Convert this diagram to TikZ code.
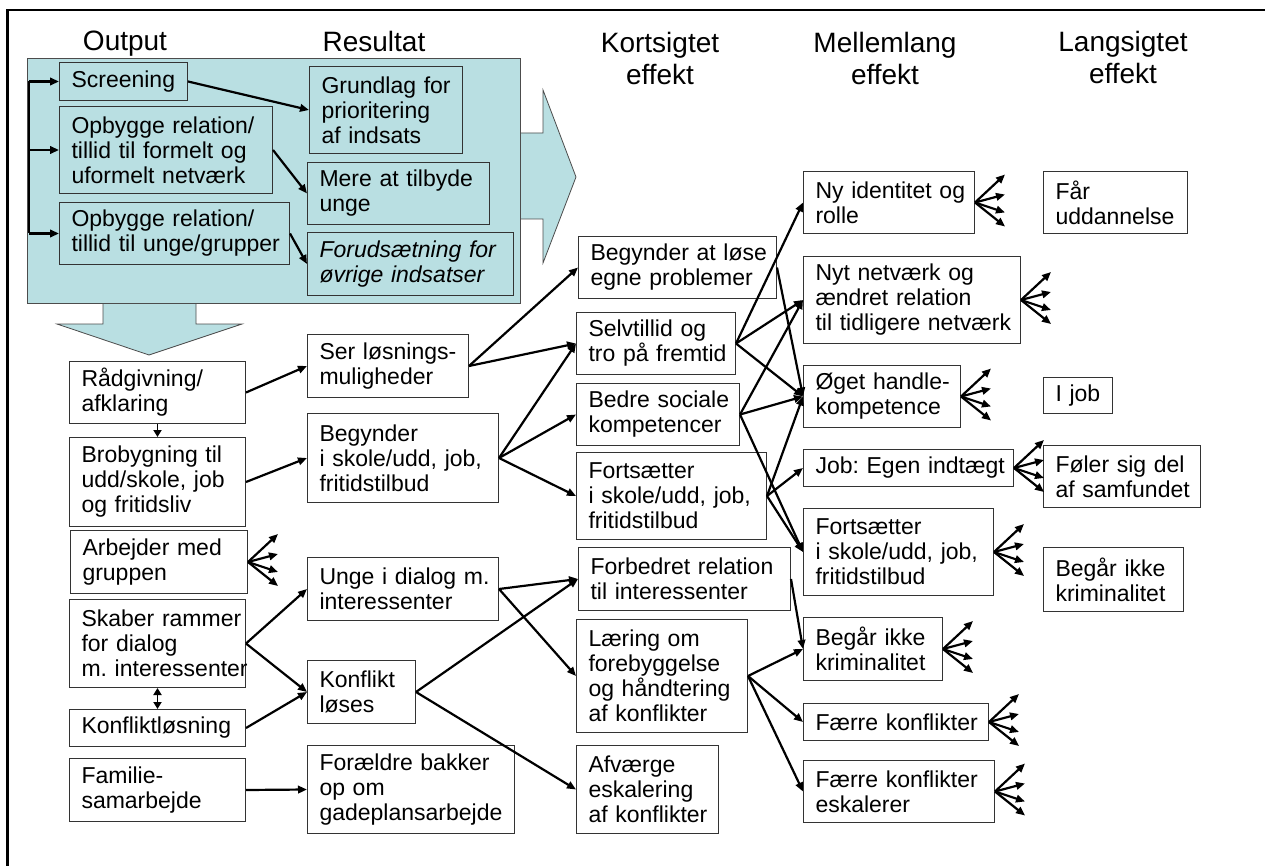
\documentclass[tikz,border=0pt]{standalone}
\usepackage{fontspec}
\setmainfont{Liberation Sans}
\usetikzlibrary{arrows.meta}

\definecolor{panel}{RGB}{185,223,226}

\tikzset{
  box/.style={draw=black!80, line width=1pt, anchor=north west, align=left,
    inner xsep=12pt, inner ysep=0pt, font=\fontsize{23}{25}\selectfont,
    execute at begin node={\hyphenpenalty=10000\exhyphenpenalty=10000\relax}},
  head/.style={anchor=north, align=center, inner sep=0pt, font=\fontsize{28}{32}\selectfont},
  arr/.style={line width=2.2pt, -{Triangle[length=9pt,width=7.5pt]}},
  small/.style={line width=1.8pt, -{Triangle[length=7pt,width=8pt]}},
  bigarrow/.style={fill=panel, draw=black!70, line width=0.8pt},
}

% four arrows fanning out of a box
\newcommand{\fanout}[1]{%
  \foreach \dy in {-28,-8,10,24} \draw[arr] (#1.east) -- ++(30,\dy);}

\begin{document}
\begin{tikzpicture}[x=1pt, y=-1pt]
\useasboundingbox (0,0) rectangle (1265,866);
\draw[line width=2.5pt] (7.7,880) -- (7.7,10) -- (1280,10);

% headings
\node[head] (hout) at (125,31) {Output};
\node[head] (hres) at (374,31) {Resultat};
\node[head] (hkort) at (660,32) {Kortsigtet\\effekt};
\node[head] (hmel) at (885,32) {Mellemlang\\effekt};
\node[head] (hlang) at (1123,31) {Langsigtet\\effekt};

% teal panel with its two arrows
\draw[bigarrow] (520,133) -- (543,133) -- (543,90) -- (576,177) -- (543,263) -- (543,219) -- (520,219) -- cycle;
\draw[bigarrow] (103,303) -- (103,324) -- (57,324) -- (149,355) -- (242,324) -- (196,324) -- (196,303) -- cycle;
\draw[bigarrow] (27.6,58) rectangle (520.5,303);

\node[box, text width=104pt, minimum height=38pt] (scr) at (59,62) {Screening};
\node[box, text width=189pt, minimum height=87pt] (opb1) at (59,106) {Opbygge relation/\\tillid til formelt og\\uformelt netværk};
\node[box, text width=206pt, minimum height=62pt] (opb2) at (59,202) {Opbygge relation/\\tillid~til~unge/grupper};
\node[box, text width=129pt, minimum height=87pt] (grund) at (309,66) {Grundlag~for\\prioritering\\af indsats};
\node[box, text width=158pt, minimum height=62pt] (mere) at (307,162) {Mere at tilbyde\\unge};
\node[box, text width=182pt, minimum height=63pt, font=\fontsize{23}{25}\selectfont\itshape] (forud) at (307,232) {Forudsætning for\\øvrige indsatser};

\coordinate (brk) at (29,0);
\draw[line width=2.2pt] (scr.west -| brk) -- (opb2.west -| brk);
\foreach \n in {scr,opb1,opb2} \draw[arr] (\n.west -| brk) -- (\n.west);
\draw[arr] (scr.east) -- (grund.west);
\draw[arr] (opb1.east) -- (mere.west);
\draw[arr] (opb2.east) -- (forud.west);

% output
\node[box, text width=152pt, minimum height=62pt] (raad) at (69,361) {Rådgivning/\\afklaring};
\node[box, text width=152pt, minimum height=89pt] (bro) at (69,437) {Brobygning til\\udd/skole, job\\og fritidsliv};
\node[box, text width=153pt, minimum height=63pt] (arb) at (70,530) {Arbejder med\\gruppen};
\node[box, text width=152pt, minimum height=88pt] (skab) at (69,599) {Skaber~rammer\\for dialog\\m.~interessenter};
\node[box, text width=152pt, minimum height=37pt] (kl) at (69,709) {Konfliktløsning};
\node[box, text width=152pt, minimum height=63pt] (fam) at (69,758) {Familie-\\samarbejde};

% resultat
\node[box, text width=137pt, minimum height=63pt] (ser) at (307,334) {Ser~løsnings-\\muligheder};
\node[box, text width=167pt, minimum height=89pt] (begsk) at (307,413) {Begynder\\i skole/udd, job,\\fritidstilbud};
\node[box, text width=167pt, minimum height=63pt] (unge) at (307,557) {Unge~i~dialog~m.\\interessenter};
\node[box, text width=84pt, minimum height=63pt] (konfl) at (307,660) {Konflikt\\løses};
\node[box, text width=183pt, minimum height=88pt] (foraeld) at (307,745) {Forældre bakker\\op om\\gadeplansarbejde};

% kortsigtet effekt
\node[box, text width=174pt, minimum height=62pt] (beglose) at (578,236) {Begynder~at~løse\\egne problemer};
\node[box, text width=135pt, minimum height=62pt] (selv) at (576,312) {Selvtillid og\\tro~på~fremtid};
\node[box, text width=139pt, minimum height=62pt] (bedre) at (576,383) {Bedre~sociale\\kompetencer};
\node[box, text width=166pt, minimum height=87pt] (forts) at (576,452) {Fortsætter\\i skole/udd, job,\\fritidstilbud};
\node[box, text width=188pt, minimum height=63pt] (forb) at (578,547) {Forbedret relation\\til interessenter};
\node[box, text width=147pt, minimum height=113pt] (laer) at (576,619) {Læring om\\forebyggelse\\og håndtering\\af konflikter};
\node[box, text width=118pt, minimum height=88pt] (afv) at (576,745) {Afværge\\eskalering\\af~konflikter};

% mellemlang effekt
\node[box, text width=147pt, minimum height=62pt] (nyid) at (803,171) {Ny~identitet~og\\rolle};
\node[box, text width=193pt, minimum height=87pt] (nyt) at (803,256) {Nyt netværk og\\ændret relation\\til~tidligere~netværk};
\node[box, text width=133pt, minimum height=62pt] (oget) at (803,365) {Øget~handle-\\kompetence};
\node[box, text width=186pt, minimum height=37pt] (job) at (803,449) {Job:~Egen~indtægt};
\node[box, text width=166pt, minimum height=87pt] (fortm) at (803,508) {Fortsætter\\i skole/udd, job,\\fritidstilbud};
\node[box, text width=115pt, minimum height=63pt] (begm) at (803,617) {Begår ikke\\kriminalitet};
\node[box, text width=161pt, minimum height=37pt] (faerre) at (803,703) {Færre~konflikter};
\node[box, text width=167pt, minimum height=62pt] (faesk) at (803,760) {Færre~konflikter\\eskalerer};

% langsigtet effekt
\node[box, text width=120pt, minimum height=62pt] (faar) at (1043,171) {Får\\uddannelse};
\node[box, text width=45pt, minimum height=36pt] (ijob) at (1043,377) {I job};
\node[box, text width=133pt, minimum height=62pt] (foler) at (1043,445) {Føler sig del\\af~samfundet};
\node[box, text width=116pt, minimum height=64pt] (begl) at (1043,547) {Begår ikke\\kriminalitet};

% output -> resultat
\draw[arr] (raad.east) -- (ser.west);
\draw[small] (raad.south) -- (bro.north);
\draw[line width=1.8pt, {Triangle[length=7pt,width=8pt]}-{Triangle[length=7pt,width=8pt]}] (skab.south) -- (kl.north);
\draw[arr] (bro.east) -- (begsk.west);
\draw[arr] (skab.east) -- (unge.west);
\draw[arr] (skab.east) -- (konfl.west);
\draw[arr] (kl.east) -- (konfl.west);
\draw[arr] (fam.east) -- (foraeld.west);

% resultat -> kortsigtet
\draw[arr] (ser.east) -- (beglose.west);
\draw[arr] (ser.east) -- (selv.west);
\draw[arr] (begsk.east) -- (selv.west);
\draw[arr] (begsk.east) -- (bedre.west);
\draw[arr] (begsk.east) -- (forts.west);
\draw[arr] (unge.east) -- (forb.west);
\draw[arr] (unge.east) -- (laer.west);
\draw[arr] (konfl.east) -- (forb.west);
\draw[arr] (konfl.east) -- (afv.west);

% kortsigtet -> mellemlang
\draw[arr] (beglose.east) -- (oget.west);
\draw[arr] (selv.east) -- (nyid.west);
\draw[arr] (selv.east) -- (nyt.west);
\draw[arr] (selv.east) -- (oget.west);
\draw[arr] (bedre.east) -- (nyt.west);
\draw[arr] (bedre.east) -- (oget.west);
\draw[arr] (bedre.east) -- (fortm.west);
\draw[arr] (forts.east) -- (job.west);
\draw[arr] (forts.east) -- (oget.west);
\draw[arr] (forts.east) -- (fortm.west);
\draw[arr] (forb.east) -- (begm.west);
\draw[arr] (laer.east) -- (begm.west);
\draw[arr] (laer.east) -- (faerre.west);
\draw[arr] (laer.east) -- (faesk.west);

% fans
\foreach \b in {arb,nyid,nyt,oget,job,fortm,begm,faerre,faesk} \fanout{\b};
\end{tikzpicture}
\end{document}
